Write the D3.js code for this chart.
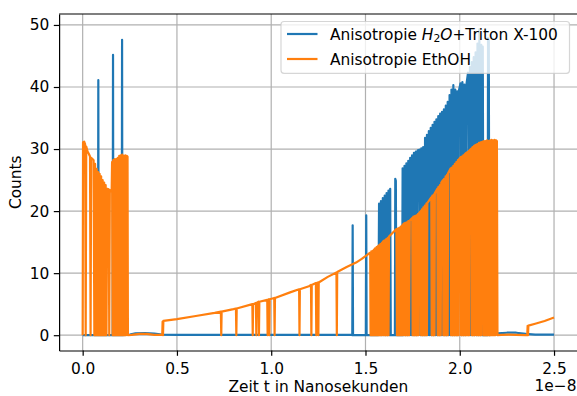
<!DOCTYPE html>
<html>
<head>
<meta charset="utf-8">
<script src="https://cdn.jsdelivr.net/npm/d3@7"></script>
<style>
  body { margin: 0; background: #fff; }
  svg { display: block; font-family: "DejaVu Sans", sans-serif; }
</style>
</head>
<body>
<div id="chart"></div>
<script>

// time in units of 1e-8 s, counts per channel
var h2oEarly = [[0,0],[0.081,0],[0.083,41.1],[0.085,0],[0.159,0],[0.161,45.2],[0.163,0],[0.207,0],[0.209,47.6],[0.211,0],
  [0.25,0.1],[0.28,0.3],[0.33,0.35],[0.38,0.25],[0.42,0.1],[0.5,0.05],[1.0,0.05],[1.428,0.05]];
var h2oSpikes = [[1.430,0],[1.432,17.7],[1.434,0],[1.502,0],[1.504,19.3],[1.506,0],[1.568,0]];
var h2oDense = [
  [1.572,21.2],[1.577,0],[1.582,21.6],[1.587,0],[1.592,22.1],[1.597,0],[1.602,22.5],[1.607,0],[1.612,22.9],[1.617,0],
  [1.622,23.3],[1.627,0],[1.631,23.6],[1.634,0],
  [1.656,0],[1.658,25.2],[1.661,24.9],[1.664,0],
  [1.694,0],[1.697,26.9],[1.702,0],[1.707,27.3],[1.712,0],[1.717,27.7],[1.722,0],[1.727,28.1],[1.732,0],[1.737,28.6],
  [1.742,0],[1.747,29.0],[1.752,0],[1.757,29.4],[1.762,0],[1.767,29.6],[1.772,0],[1.777,29.8],[1.786,29.9],[1.791,0],
  [1.796,30.1],[1.801,0],[1.806,30.3],[1.811,0],
  [1.816,31.8],[1.821,0],[1.826,32.3],[1.831,0],[1.836,32.9],[1.841,0],[1.846,33.4],[1.851,0],[1.856,33.9],[1.861,0],
  [1.866,34.4],[1.871,0],[1.876,34.8],[1.881,0],[1.886,35.3],[1.891,0],[1.896,35.7],[1.901,0],[1.906,36.0],[1.911,0],
  [1.916,36.4],[1.921,0],[1.926,37.0],[1.931,0],[1.936,37.6],[1.941,0],[1.946,38.7],[1.951,0],[1.956,39.6],[1.961,0],
  [1.966,40.3],[1.971,0],[1.976,39.6],[1.981,0],[1.986,39.3],[1.990,0],[1.994,39.2],[2.004,40.6],[2.009,0],[2.014,40.8],
  [2.019,0],[2.024,40.4],[2.029,0],[2.034,40.1],[2.044,42.3],[2.049,0],[2.054,43.2],[2.059,0],[2.064,44.0],[2.069,0],
  [2.074,44.8],[2.079,0],[2.084,45.6],[2.089,0],[2.094,47.0],[2.099,0],[2.104,49.3],[2.109,0],[2.114,46.8],[2.118,0],
  [2.122,46.5],[2.126,0],
  [2.148,0],[2.150,47.9],[2.154,47.6],[2.157,0]];
var h2oTail = [[2.17,0.1],[2.20,0.3],[2.25,0.4],[2.30,0.4],[2.35,0.2],[2.40,0.1],[2.50,0.1]];

var ethEarly = [[0,0],[0.002,31.1],[0.008,31.2],[0.013,30.8],[0.016,0],[0.019,30.4],[0.026,29.6],[0.033,29.2],[0.039,28.8],
  [0.042,0],[0.045,28.6],[0.052,28.4],[0.058,28.2],
  [0.062,0],[0.066,27.6],[0.070,0],[0.074,26.8],[0.078,0],[0.082,26.3],[0.086,0],[0.090,26.0],[0.094,0],[0.098,25.6],
  [0.102,0],[0.106,25.0],[0.110,0],[0.114,24.6],[0.118,0],[0.122,24.2],[0.126,0],[0.130,23.6],[0.138,23.5],[0.141,0],
  [0.144,23.4],[0.150,23.2],[0.154,23.6],[0.156,27.9],
  [0.159,0],[0.162,28.2],[0.166,0],[0.170,28.4],[0.174,0],[0.178,28.4],[0.182,0],[0.186,28.6],[0.190,0],[0.194,28.9],
  [0.198,0],[0.202,29.0],[0.206,0],[0.210,29.1],[0.214,0],[0.218,28.9],[0.222,0],[0.226,29.0],[0.230,0],[0.234,28.9],
  [0.238,28.8],[0.240,0]];
var ethFlat = [[0.26,0.05],[0.30,0.2],[0.34,0.2],[0.38,0.05],[0.422,0.05],[0.424,2.2],[0.426,0],[0.428,2.3]];
var ethRise = [[0.50,2.6],[0.60,3.1],[0.70,3.6],[0.733,3.8],[0.735,0],[0.737,3.8],[0.80,4.2],[0.813,4.3],[0.815,0],[0.817,4.3],
  [0.900,5.0],[0.902,0],[0.904,5.0],[0.919,5.2],[0.921,0],[0.923,5.2],[0.933,5.4],[0.935,0],[0.937,5.4],[0.979,5.7],
  [0.981,0],[0.983,5.7],[0.988,5.8],[0.990,0],[0.992,5.8],[1.016,6.0],[1.018,0],[1.020,6.0],[1.10,6.9],[1.148,7.4],
  [1.150,0],[1.152,7.4],[1.20,7.9],[1.211,8.1],[1.213,0],[1.215,8.1],[1.237,8.4],[1.239,0],[1.241,8.4],[1.248,8.5],
  [1.250,0],[1.252,8.5],[1.30,9.4],[1.346,10.1],[1.348,0],[1.350,10.2],[1.40,11.0],[1.45,11.7],[1.48,12.3],[1.525,13.3]];
var ethDense = [
  [1.527,0],[1.531,13.5],[1.535,0],[1.539,13.6],[1.543,0],[1.545,13.8],
  [1.547,0],[1.551,14.0],[1.555,0],[1.559,14.2],[1.563,0],[1.565,14.3],
  [1.567,0],[1.571,14.5],[1.575,0],[1.579,14.7],[1.583,0],[1.587,14.9],[1.589,0],[1.591,15.0],
  [1.596,15.2],[1.598,0],[1.602,15.3],[1.606,0],[1.610,15.5],[1.614,0],[1.618,15.7],[1.622,0],[1.625,15.9],[1.664,17.1],
  [1.667,0],[1.671,17.2],[1.675,0],[1.679,17.3],[1.683,0],[1.687,17.5],[1.691,0],[1.695,17.7],[1.698,0],[1.700,17.9],[1.705,18.0],
  [1.707,0],[1.711,18.1],[1.715,0],[1.719,18.2],[1.723,0],[1.727,18.4],[1.731,0],[1.735,18.5],[1.748,18.9],
  [1.750,0],[1.754,19.1],[1.758,0],[1.762,19.2],[1.766,0],[1.770,19.3],[1.774,0],[1.778,19.5],[1.782,0],[1.785,19.7],[1.793,20.0],
  [1.795,0],[1.799,20.3],[1.803,0],[1.807,20.6],[1.811,0],[1.815,20.9],[1.819,0],[1.823,21.2],[1.826,0],[1.828,21.3],[1.849,22.2],
  [1.851,0],[1.855,22.5],[1.859,0],[1.863,22.7],[1.866,0],[1.868,22.9],[1.881,23.6],
  [1.883,0],[1.887,23.9],[1.891,0],[1.895,24.2],[1.899,0],[1.902,24.6],[1.911,25.0],
  [1.913,0],[1.917,25.2],[1.921,0],[1.925,25.6],[1.929,0],[1.933,25.9],[1.936,0],[1.938,26.1],[1.952,26.9],
  [1.954,0],[1.958,27.0],[1.962,0],[1.966,27.3],[1.970,0],[1.974,27.6],[1.978,0],[1.982,27.9],[1.986,0],[1.990,28.2],
  [1.994,0],[1.997,28.4],[2.005,28.7],
  [2.007,0],[2.011,28.8],[2.015,0],[2.019,29.0],[2.023,0],[2.027,29.2],[2.029,0],[2.031,29.3],[2.035,29.4],
  [2.037,0],[2.041,29.5],[2.045,0],[2.049,29.7],[2.050,0],[2.052,29.8],[2.062,30.1],
  [2.064,0],[2.068,30.3],[2.072,0],[2.076,30.5],[2.080,0],[2.082,30.6],[2.088,30.7],
  [2.090,0],[2.094,30.8],[2.098,0],[2.102,31.0],[2.106,0],[2.110,31.1],[2.113,0],[2.115,31.1],[2.123,31.2],
  [2.125,0],[2.129,31.3],[2.133,0],[2.137,31.3],[2.141,0],[2.145,31.4],[2.149,0],[2.153,31.3],[2.157,0],[2.161,31.4],
  [2.165,0],[2.169,31.5],[2.173,0],[2.177,31.4],[2.181,0],[2.185,31.5],[2.189,0],[2.193,31.4],[2.197,31.3],[2.200,0]];
var ethTail = [[2.22,0.05],[2.26,0.1],[2.30,0.05],[2.35,0.0],[2.358,0.05],[2.360,1.5],[2.362,0],[2.364,1.55],
  [2.40,1.85],[2.45,2.3],[2.50,2.85]];

var xTicks = [0, 0.5, 1.0, 1.5, 2.0, 2.5];
var yTicks = [0, 10, 20, 30, 40, 50];
var xTickLabels = ["0.0", "0.5", "1.0", "1.5", "2.0", "2.5"];
var seriesColors = ["#1f77b4", "#ff7f0e"];


function drawChart(id) {
  var svgWidth = 577;
  var svgHeight = 396;
  var fontSize = 15.4;
  var lineWidth = 2.2;
  // axes box in pixels
  var left = 59.1, right = 577.6, top = 14, bottom = 350.5;

  var series = [
    { name: "h2o", values: h2oEarly.concat(h2oSpikes, h2oDense, h2oTail) },
    { name: "eth", values: ethEarly.concat(ethFlat, ethRise, ethDense, ethTail) }
  ];

  var svg = d3.select(id)
    .append("svg")
    .attr("width", svgWidth)
    .attr("height", svgHeight);

  var xScale = d3.scaleLinear().domain([-0.125, 2.625]).range([left, right]);
  var yScale = d3.scaleLinear().domain([-2.465, 51.765]).range([bottom, top]);

  svg.append("clipPath")
    .attr("id", "plot-clip")
    .append("rect")
    .attr("x", left).attr("y", top)
    .attr("width", right - left).attr("height", bottom - top);

  // grid
  var grid = svg.append("g").attr("stroke", "#b0b0b0").attr("stroke-width", 1.2);
  grid.selectAll(".gx")
    .data(xTicks)
    .enter()
    .append("line")
    .attr("x1", d => xScale(d)).attr("x2", d => xScale(d))
    .attr("y1", top).attr("y2", bottom);
  grid.selectAll(".gy")
    .data(yTicks)
    .enter()
    .append("line")
    .attr("x1", left).attr("x2", right)
    .attr("y1", d => yScale(d)).attr("y2", d => yScale(d));

  var line = d3.line()
    .x(d => xScale(d[0]))
    .y(d => yScale(d[1]));

  svg.append("g")
    .attr("clip-path", "url(#plot-clip)")
    .selectAll("path")
    .data(series)
    .enter()
    .append("path")
    .attr("fill", "none")
    .attr("stroke", (d, i) => seriesColors[i])
    .attr("stroke-width", lineWidth)
    .attr("stroke-linejoin", "round")
    .attr("d", d => line(d.values));

  // axes
  var x_axis = d3.axisBottom(xScale)
    .tickValues(xTicks)
    .tickFormat((d, i) => xTickLabels[i])
    .tickSize(5.3).tickSizeOuter(0).tickPadding(7.2);
  var y_axis = d3.axisLeft(yScale)
    .tickValues(yTicks)
    .tickSize(5.3).tickSizeOuter(0).tickPadding(4.5);

  svg.append("g")
    .attr("id", "x-axis")
    .attr("transform", `translate(0, ${bottom})`)
    .call(x_axis);
  svg.append("g")
    .attr("id", "y-axis")
    .attr("transform", `translate(${left}, 0)`)
    .call(y_axis);

  svg.selectAll("#x-axis, #y-axis")
    .attr("font-family", "DejaVu Sans")
    .attr("font-size", fontSize);
  svg.selectAll(".tick line").attr("stroke", "#000").attr("stroke-width", 1.2);
  svg.selectAll(".tick text").attr("fill", "#000");
  svg.selectAll(".domain").attr("stroke", "#000").attr("stroke-width", 1.2);

  // top and right spines
  svg.append("line").attr("x1", left).attr("x2", right).attr("y1", top).attr("y2", top)
    .attr("stroke", "#000").attr("stroke-width", 1.2);
  svg.append("line").attr("x1", right).attr("x2", right).attr("y1", top).attr("y2", bottom)
    .attr("stroke", "#000").attr("stroke-width", 1.2);

  svg.append("text")
    .attr("x", (left + right) / 2)
    .attr("y", 392)
    .attr("text-anchor", "middle")
    .attr("font-size", fontSize)
    .text("Zeit t in Nanosekunden");

  svg.append("text")
    .attr("x", 576.5)
    .attr("y", 390.5)
    .attr("text-anchor", "end")
    .attr("font-size", fontSize)
    .text("1e\u22128");

  svg.append("text")
    .attr("transform", `translate(20.7, ${(top + bottom) / 2}) rotate(-90)`)
    .attr("text-anchor", "middle")
    .attr("font-size", fontSize)
    .text("Counts");

  // legend
  var legend = svg.append("g").attr("id", "legend");
  legend.append("rect")
    .attr("x", 281).attr("y", 21.5)
    .attr("width", 288.5).attr("height", 51.8)
    .attr("rx", 3)
    .attr("fill", "#fff").attr("fill-opacity", 0.8)
    .attr("stroke", "#cccccc").attr("stroke-opacity", 0.8).attr("stroke-width", 1.2);

  var rows = [34, 59];
  legend.selectAll(".handle")
    .data(rows)
    .enter()
    .append("line")
    .attr("x1", 287).attr("x2", 317.5)
    .attr("y1", d => d).attr("y2", d => d)
    .attr("stroke", (d, i) => seriesColors[i])
    .attr("stroke-width", lineWidth);

  var t1 = legend.append("text")
    .attr("x", 330).attr("y", rows[0] + 5.5)
    .attr("font-size", fontSize);
  t1.append("tspan").text("Anisotropie ");
  t1.append("tspan").attr("font-style", "italic").text("H");
  t1.append("tspan").attr("font-size", fontSize * 0.7).attr("dy", 2.9).text("2");
  t1.append("tspan").attr("font-style", "italic").attr("dy", -2.9).text("O");
  t1.append("tspan").text("+Triton X-100");

  legend.append("text")
    .attr("x", 330).attr("y", rows[1] + 5.5)
    .attr("font-size", fontSize)
    .text("Anisotropie EthOH");
}

window.addEventListener('load', function () {
  drawChart('#chart');
});

</script>
</body>
</html>
